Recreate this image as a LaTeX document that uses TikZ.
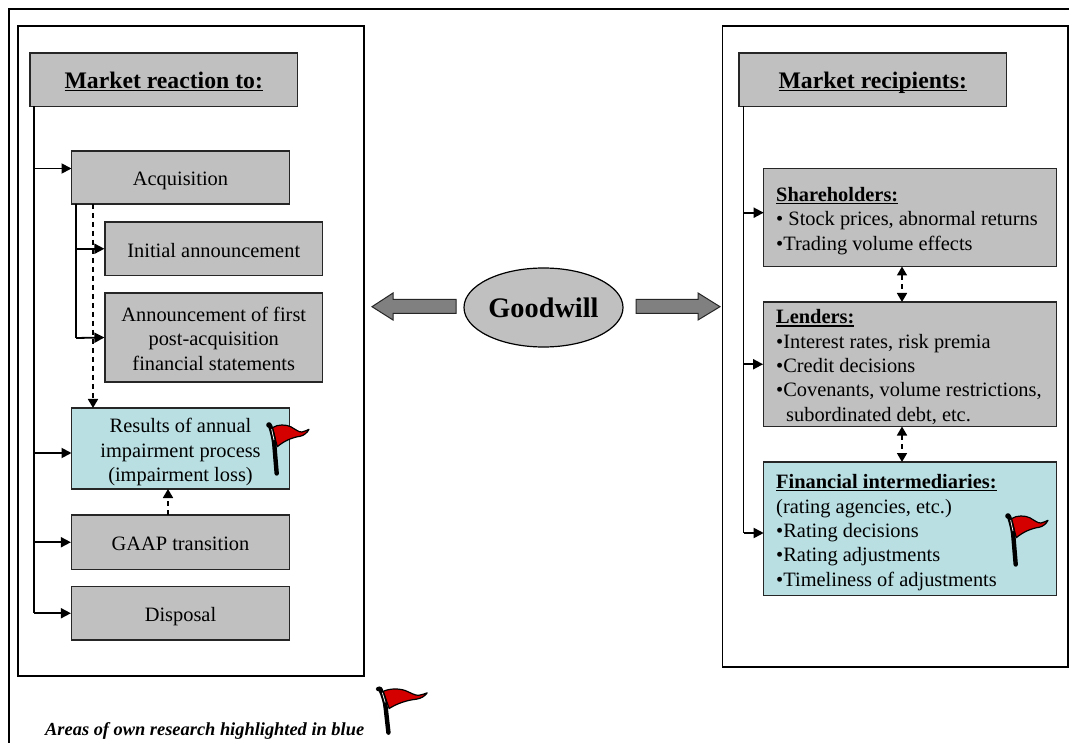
\documentclass[tikz,border=0pt]{standalone}
\usepackage{fontspec}
\setmainfont{Liberation Serif}
\usetikzlibrary{arrows.meta,calc,shapes.geometric}
\definecolor{boxgray}{HTML}{C0C0C0}
\definecolor{boxblue}{HTML}{B9DFE3}
\definecolor{arrgray}{HTML}{808080}
\definecolor{flagred}{HTML}{D40000}
\newcommand{\ulbf}[3][1.4pt]{\setbox0\hbox{\textbf{#3}}\rlap{\rule[-#2]{\wd0}{#1}}\box0}
\newcommand{\topst}{\rule{0pt}{22pt}}
\newcommand{\botst}{\rule[-5pt]{0pt}{5pt}}
\tikzset{
  frame/.style={draw=black,line width=1.3pt,fill=white},
  panelbox/.style={draw=black!85,line width=1.2pt,inner sep=0pt,align=center,font=\fontsize{20.4}{24.3}\selectfont},
  graybox/.style={panelbox,fill=boxgray},
  bluebox/.style={panelbox,fill=boxblue},
  txt/.style={inner sep=0pt,align=left,anchor=west,font=\fontsize{20.4}{24.4}\selectfont},
  conn/.style={line width=1.8pt,-{Triangle[length=10pt,width=10pt]}},
  trunk/.style={line width=1.5pt},
  dash1/.style={line width=1.7pt,dash pattern=on 5pt off 4pt,-{Triangle[length=9pt,width=10pt]}},
  dash2/.style={line width=1.7pt,dash pattern=on 5pt off 4pt,{Triangle[length=9pt,width=10pt]}-{Triangle[length=9pt,width=10pt]}},
  blockarrow/.style={draw=black!85,line width=1pt,fill=arrgray},
  pics/redflag/.style={code={
    \fill[flagred,draw=black,line width=1.2pt,line join=round]
      (4.3,2.7) .. controls (10,-1) and (18,-0.5) .. (22.7,1.7)
      .. controls (27,4) and (31,7.5) .. (34,7) .. controls (37,6.5) and (39,5) .. (41,4.3)
      .. controls (39,8) and (36,10.5) .. (32,11.3) .. controls (24,12.5) and (16,16) .. (9.3,21.7) -- cycle;
    \draw[black,line width=4.4pt,line cap=round] (2.2,1) .. controls (4.5,8) and (6,14) .. (6.5,22) -- (8.7,48.5);
    \draw[white,line width=0.7pt] (3.6,4) -- (6,15);
    \fill[black] (1,0) circle (2.8);
  }}
}
\begin{document}
\begin{tikzpicture}[x=1pt,y=-1pt]
\useasboundingbox (0,0) rectangle (1069,743);
\fill[white] (0,0) rectangle (1069,743);
% outer frame
\coordinate (ob) at (9,743);
\coordinate (oc) at (9,9);
\coordinate (ot) at (1069,9);
\draw[line width=1.2pt] (ob) -- (oc) -- (ot);
% panels
\node[frame,minimum width=346pt,minimum height=650pt,inner sep=0pt] (leftpanel) at (191,351) {};
\node[frame,minimum width=345.5pt,minimum height=641pt,inner sep=0pt] (rightpanel) at (895.3,346.5) {};
% left boxes
\node[graybox,minimum width=267.5pt,minimum height=53.5pt,font=\fontsize{23.7}{26}\selectfont] (hl) at (163.75,79.75) {\topst\ulbf{3pt}{Market reaction to:}\botst};
\node[graybox,minimum width=218pt,minimum height=53pt] (acq) at (180.5,177.5) {\topst Acquisition\botst};
\node[graybox,minimum width=217.5pt,minimum height=53.5pt] (init) at (213.75,248.75) {\topst Initial announcement\botst};
\node[graybox,minimum width=217.5pt,minimum height=89pt] (ann) at (213.75,337.5) {\topst Announcement of first\\post-acquisition\\financial statements\botst};
\node[bluebox,minimum width=218pt,minimum height=81pt] (res) at (180.5,448.5) {\topst Results of annual\\impairment process\\(impairment loss)\botst};
\node[graybox,minimum width=218pt,minimum height=54.5pt] (gaap) at (180.5,542.25) {\topst GAAP transition\botst};
\node[graybox,minimum width=218pt,minimum height=53.5pt] (disp) at (180.5,613.25) {\topst Disposal\botst};
% left connectors
\coordinate (lt) at (34,106.5);
\coordinate (ltb) at (34,613.25);
\draw[trunk] (lt) -- (ltb);
\coordinate (aa) at (71.5,168.5);
\draw[conn] (lt |- aa) -- (aa);
\coordinate (ar) at (71.5,453);
\draw[conn] (lt |- ar) -- (ar);
\draw[conn] (lt |- gaap.west) -- (gaap.west);
\draw[conn] (lt |- disp.west) -- (disp.west);
\coordinate (it) at (76,204);
\coordinate (ib) at (76,338);
\draw[trunk] (it) -- (ib);
\draw[conn] (it |- init.west) -- (init.west);
\draw[conn] (ib) -- (ann.west);
\coordinate (dt) at (93,204);
\coordinate (db) at (93,408);
\draw[dash1] (dt) -- (db);
\coordinate (gt) at (168,515);
\coordinate (rb) at (168,489);
\draw[dash1] (gt) -- (rb);
% centre
\node[draw=black,line width=1.2pt,fill=boxgray,ellipse,minimum width=159pt,minimum height=79pt,inner sep=0pt,font=\fontsize{28.3}{30}\selectfont\bfseries] (gw) at (543.5,307.5) {Goodwill};
\draw[blockarrow] (456,299.5) -- (393,299.5) -- (393,293) -- (372,306.7) -- (393,320) -- (393,313.5) -- (456,313.5) -- cycle;
\draw[blockarrow] (636,299.5) -- (698,299.5) -- (698,293) -- (720,306.7) -- (698,320) -- (698,313.5) -- (636,313.5) -- cycle;
% right boxes
\node[graybox,minimum width=267.5pt,minimum height=53.5pt,font=\fontsize{23.7}{26}\selectfont] (hr) at (872.75,79.75) {\topst\ulbf{3pt}{Market recipients:}\botst};
\node[graybox,minimum width=293pt,minimum height=98pt] (sh) at (910.2,217.5) {};
\node[graybox,minimum width=293pt,minimum height=124.5pt] (le) at (910.2,364.25) {};
\node[bluebox,minimum width=293pt,minimum height=133.7pt] (fi) at (910.2,528.85) {};
\node[txt] (sht) at (776,221) {\ulbf{2.8pt}{Shareholders:}\\• Stock prices, abnormal returns\\•Trading volume effects};
\node[txt] (let) at (776,367) {\ulbf{2.8pt}{Lenders:}\\•Interest rates, risk premia\\•Credit decisions\\•Covenants, volume restrictions,\\\hspace*{10pt}subordinated debt, etc.};
\node[txt] (fit) at (776,532.5) {\ulbf{2.8pt}{Financial intermediaries:}\\(rating agencies, etc.)\\•Rating decisions\\•Rating adjustments\\•Timeliness of adjustments};
% right connectors
\coordinate (rt) at (743.5,106.5);
\coordinate (af) at (763.7,533);
\coordinate (rbm) at (743.5,533);
\draw[trunk] (rt) -- (rbm);
\coordinate (as) at (763.7,212.7);
\draw[conn] (rt |- as) -- (as);
\draw[conn] (rt |- le.west) -- (le.west);
\draw[conn] (rbm) -- (af);
\coordinate (d1) at (902,266.5);
\coordinate (d2) at (902,302);
\draw[dash2] (d1) -- (d2);
\coordinate (d3) at (902,426.5);
\coordinate (d4) at (902,462);
\draw[dash2] (d3) -- (d4);
% flags
\pic at (268,425) {redflag};
\pic at (1007,516) {redflag};
\pic[xscale=1.2,yscale=0.9] at (378,689) {redflag};
% note
\node[inner sep=0pt,anchor=west,font=\fontsize{18.4}{20}\selectfont\bfseries\itshape] (note) at (45,731) {Areas of own research highlighted in blue};
\end{tikzpicture}
\end{document}
